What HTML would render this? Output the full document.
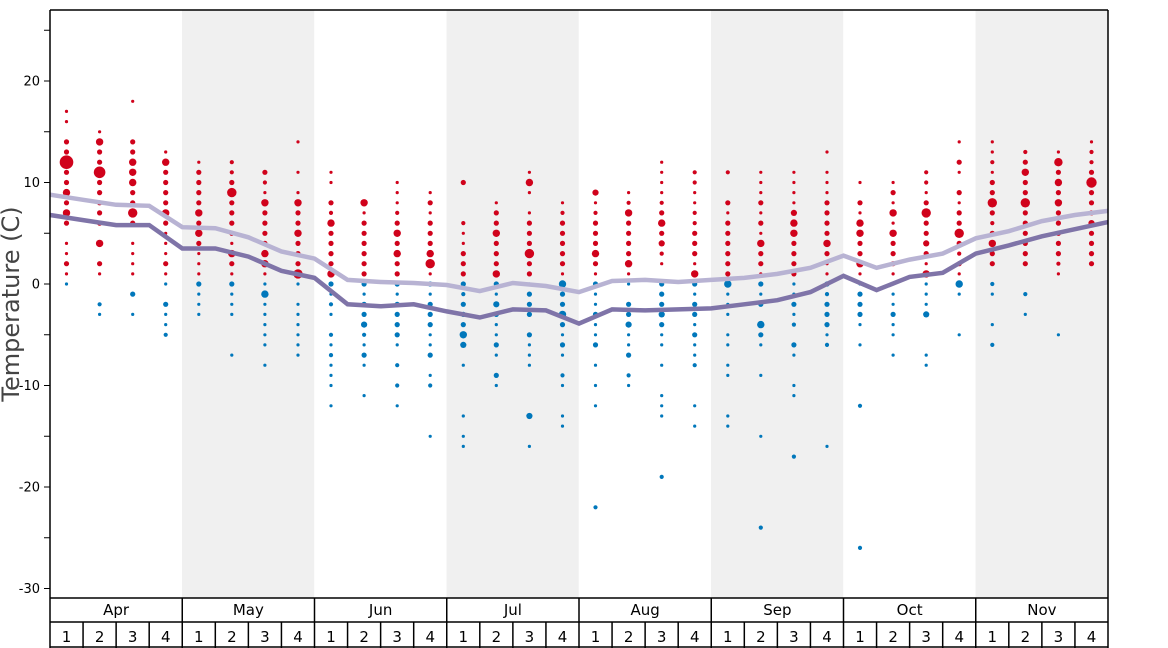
<!DOCTYPE html>
<html><head><meta charset="utf-8"><style>
body{margin:0;background:#fff;}
svg{display:block;font-family:"DejaVu Sans","Liberation Sans",sans-serif;}
</style></head><body>
<svg id="s" width="1168" height="648" viewBox="0 0 1168 648" xmlns="http://www.w3.org/2000/svg">
<rect width="1168" height="648" fill="#fff"/>
<g fill="#f0f0f0">
<rect x="182" y="10" width="132.2" height="588"/>
<rect x="446.5" y="10" width="132.2" height="588"/>
<rect x="711" y="10" width="132.2" height="588"/>
<rect x="975.5" y="10" width="132.5" height="588"/>
</g>
<g id="dots"></g>
<polyline id="l1" fill="none" stroke="#b8b3d3" stroke-width="4.5"/>
<polyline id="l2" fill="none" stroke="#7f74a8" stroke-width="4.5"/>
<g stroke="#000" stroke-width="1.5" fill="none">
<line x1="50" y1="10" x2="1108" y2="10"/>
<line x1="1108" y1="10" x2="1108" y2="648"/>
<line x1="50" y1="10" x2="50" y2="648"/>
<line x1="50" y1="598" x2="1108" y2="598"/>
<line x1="50" y1="622" x2="1108" y2="622"/>
<line x1="50" y1="647" x2="1108" y2="647"/>
</g>
<g id="ax"></g>
<text transform="translate(19,304) rotate(-90)" text-anchor="middle" font-size="24" fill="#444">Temperature (C)</text>
</svg>
<script>
var ns="http://www.w3.org/2000/svg";
function Y(v){return 284-v*10.15;}
function el(p,t,a,txt){var e=document.createElementNS(ns,t);for(var k in a)e.setAttribute(k,a[k]);if(txt!==undefined)e.textContent=txt;p.appendChild(e);return e;}
var W=1058/32;
var ax=document.getElementById('ax');
for(var v=-30;v<=25;v+=5){el(ax,'line',{x1:44,x2:50,y1:Y(v),y2:Y(v),stroke:'#000','stroke-width':1});
 if(v%10==0)el(ax,'text',{x:40,y:Y(v)+4.5,'text-anchor':'end','font-size':13,fill:'#000'},String(v));}
var months=['Apr','May','Jun','Jul','Aug','Sep','Oct','Nov'];
for(var m=0;m<8;m++){var x0=50+m*4*W;
 if(m>0)el(ax,'line',{x1:x0,x2:x0,y1:598,y2:648,stroke:'#000','stroke-width':1.5});
 el(ax,'text',{x:x0+2*W,y:615,'text-anchor':'middle','font-size':15,fill:'#000'},months[m]);
 for(var w=0;w<4;w++){var xx=x0+w*W;if(w>0)el(ax,'line',{x1:xx,x2:xx,y1:622,y2:648,stroke:'#000','stroke-width':1.5});
  el(ax,'text',{x:xx+W/2,y:642,'text-anchor':'middle','font-size':15,fill:'#000'},String(w+1));}}
var L1=[8.8,8.3,7.8,7.7,5.6,5.5,4.6,3.2,2.5,0.4,0.2,0.1,-0.1,-0.7,0.1,-0.2,-0.8,0.3,0.4,0.2,0.4,0.6,1.0,1.6,2.8,1.6,2.4,3.0,4.5,5.2,6.2,6.8,7.2];
var L2=[6.8,6.3,5.8,5.8,3.5,3.5,2.7,1.3,0.6,-2.0,-2.2,-2.0,-2.7,-3.3,-2.5,-2.6,-3.9,-2.5,-2.6,-2.5,-2.4,-2.0,-1.6,-0.8,0.8,-0.6,0.7,1.1,3.0,3.8,4.7,5.4,6.1];
function pts(a){return a.map(function(v,i){var x=i==0?50:(i==32?1108:50+W*i);return x.toFixed(1)+','+Y(v).toFixed(1);}).join(' ');}
document.getElementById('l1').setAttribute('points',pts(L1));
document.getElementById('l2').setAttribute('points',pts(L2));
var D=[
"17:1,16:1,14:2,13:2,12:6,11:2,10:2,9:3,8:2,7:3,6:2,4:1,3:1,2:2,1:1,0:1",
"15:1,14:3,13:2,12:2,11:5,10:2,9:2,8:2,7:2,6:2,4:3,2:2,1:1,-2:1.5,-3:1",
"18:1,14:2,13:2,12:3,11:3,10:3,9:2,8:2,7:4,6:2,4:1,3:1,2:1,1:1,-1:2,-3:1",
"13:1,12:3,11:2,10:2,9:2,8:2,7:3,6:2,5:1,4:1,3:1,2:2,1:1,0:1,-2:2,-3:1,-4:1,-5:1.5",
"12:1,11:2,10:2,9:2,8:2,7:3,6:2,5:3,4:2,3:1,2:1,1:1,0:2,-1:1,-2:1,-3:1",
"12:1.5,11:1.5,10:2,9:4,8:2,7:2,6:2,5:2,4:1,3:3,2:2,1:1,0:2,-1:1,-2:1,-3:1,-7:1",
"11:2,10:1.5,9:1,8:3,7:2,6:2,5:2,4:2,3:3,2:3,1:1,0:1,-1:3,-2:1,-3:1,-4:1,-5:1,-6:1,-8:1",
"14:1,11:1,9:1,8:3,7:2,6:2,5:3,4:2,3:2,2:2,1:4,0:1,-2:1,-3:1,-4:1,-5:1,-6:1,-7:1",
"11:1,10:1,8:2,7:1.5,6:3,5:2,4:2,3:2,2:2,1:3,0:2,-1:1,-2:1.5,-3:1,-5:1.5,-6:1,-7:1.5,-8:1,-9:1,-10:1,-12:1",
"8:3,7:1,6:2,5:2,4:2,3:2,2:2,1:2,0:2,-1:1,-2:2,-3:2,-4:2.5,-5:1.5,-6:1,-7:2,-8:1,-11:1",
"10:1,9:1,8:1,7:1.5,6:2,5:3,4:2,3:3,2:2,1:2,0:2,-1:1,-2:2,-3:2,-4:2,-5:2,-6:1,-8:1.5,-10:1.5,-12:1",
"9:1,8:2,7:1,6:2,5:2,4:2,3:3,2:4,1:1,0:2,-1:1,-2:2,-3:2,-4:2,-5:1,-6:1,-7:2,-9:1,-10:1.5,-15:1",
"10:2,6:1.5,5:1,4:1,3:2,2:2,1:2,0:2,-1:1.5,-2:2,-3:2,-4:2,-5:3,-6:2.5,-8:1,-13:1,-15:1,-16:1",
"8:1,7:2,6:2,5:3,4:2,3:2,2:2,1:3,0:2,-1:1,-2:2.5,-3:2,-4:1,-5:1,-6:2,-7:1,-9:2,-10:1",
"11:1,10:3,9:1,7:1,6:2,5:2,4:2,3:4,2:2,1:2,0:1,-1:2,-2:2,-3:2,-5:2,-6:1,-7:1,-8:1,-13:2.5,-16:1",
"8:1,7:1.5,6:2,5:2,4:2,3:2,2:2,1:1,0:3,-1:2,-2:2,-3:3,-4:2,-5:1,-6:2,-7:1,-9:1.5,-10:1,-13:1,-14:1",
"9:2.5,8:1,7:1.5,6:2,5:2,4:2,3:3,2:2,1:1,0:2,-1:1,-2:1,-3:2,-4:1,-5:1,-6:2,-8:1,-10:1,-12:1,-22:1.5",
"9:1,8:1.5,7:3,6:2,5:2,4:2,3:2,2:3,1:1,0:1,-2:2,-3:2,-4:2.5,-5:1,-6:1,-7:2,-9:1.5,-10:1",
"12:1,11:1,10:1,9:1,8:1.5,7:2,6:3,5:2,4:2.5,3:1.5,2:1,0:2,-1:2,-2:2,-3:2.5,-4:2,-5:1,-6:1,-8:1,-11:1,-12:1,-13:1,-19:1.5",
"11:1.5,10:1.5,9:1,8:1,7:1.5,6:1.5,5:2,4:2,3:2,2:1,1:3,0:2,-1:1,-2:2,-3:2,-4:1,-5:2,-6:1,-7:1,-8:1.5,-12:1,-14:1",
"11:1.5,8:2,7:1,6:2,5:2,4:2,3:2,2:2,1:2,0:3,-1:1,-2:1,-3:1,-5:1,-6:1,-8:1,-9:1,-13:1,-14:1",
"11:1,10:1,9:1,8:2,7:1,6:2,5:1,4:3,3:2,2:2,1:1,0:2,-1:1,-2:2,-4:3,-5:2,-6:1,-9:1,-15:1,-24:1.5",
"11:1,10:1,9:1,8:1,7:2.5,6:3,5:3,4:2,3:2,2:2,1:2,0:1,-1:1,-2:2,-3:1,-4:1.5,-6:2,-7:1,-10:1,-11:1,-17:1.5",
"13:1,11:1,10:1,9:1,8:2,7:2,6:2,5:2,4:3,3:2,2:1,1:1,0:2,-1:1.5,-2:2,-3:2,-4:2,-5:1,-6:1.5,-16:1",
"10:1,8:2,7:1,6:3,5:3,4:2,3:2,2:3,1:1,0:1,-1:2,-2:2,-3:2,-4:1,-6:1,-12:1.5,-26:1.5",
"10:1,9:2,8:1,7:3,6:1,5:3,4:2,3:2,2:2,1:1,0:1,-1:1,-2:1,-3:2,-4:1,-5:1,-7:1",
"11:1.5,10:1.5,9:1,8:2,7:4,6:2,5:2,4:2.5,3:2,2:1,1:3,0:1,-1:1,-2:1,-3:2.5,-7:1,-8:1",
"14:1,12:2,11:1,9:2,8:1,7:2,6:2,5:4,4:2,3:1.5,2:2,1:1,0:3,-1:1,-5:1",
"14:1,13:1,12:1.5,11:1,10:2,9:2,8:4,7:2,6:1.5,5:2,4:3,3:2,2:2,0:1.5,-1:1,-4:1,-6:1.5",
"13:1.5,12:2,11:3,10:2,9:2,8:4,7:2,6:2,5:2,4:2,3:2,2:2,-1:1.5,-3:1",
"13:1,12:3.5,11:2,10:3,9:2,8:3,7:2,6:2,5:2,4:2,3:2,2:1.5,1:1,-5:1",
"14:1,13:1.5,12:1.5,11:2,10:4.5,9:2,8:2,7:2,6:2.5,5:2,4:2,3:2,2:2"];
var g=document.getElementById('dots');
D.forEach(function(s,i){var cx=50+W*(i+0.5);s.split(',').forEach(function(p){var q=p.split(':');var v=+q[0],r=+q[1];
 el(g,'circle',{cx:cx.toFixed(1),cy:Y(v).toFixed(1),r:(r<=1?1.6:r*1.05+0.5).toFixed(1),fill:v>0?'#d0021b':'#0077bb'});});});
</script>
</body></html>
